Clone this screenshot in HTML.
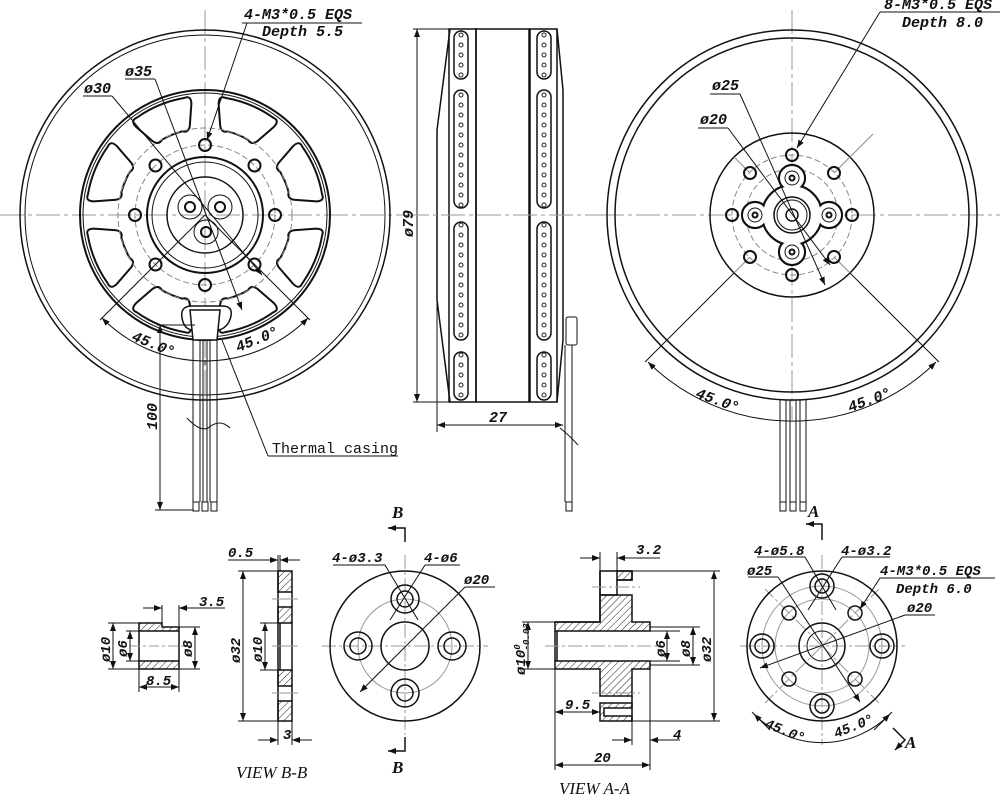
<!DOCTYPE html>
<html><head><meta charset="utf-8"><style>
html,body{margin:0;padding:0;background:#fff;}
svg{display:block;}
text{font-family:"Liberation Mono",monospace;font-style:italic;font-weight:bold;fill:#111;}
.s{font-family:"Liberation Serif",serif;}
</style></head><body>
<svg width="1000" height="795" viewBox="0 0 1000 795" xmlns="http://www.w3.org/2000/svg">
<defs>
<pattern id="hat" patternUnits="userSpaceOnUse" width="5" height="5" patternTransform="rotate(45)"><line x1="0" y1="0" x2="0" y2="5" stroke="#222" stroke-width="1"/></pattern>
<pattern id="dl" patternUnits="userSpaceOnUse" x="455" y="0" width="12" height="10"><circle cx="6" cy="5" r="2" fill="none" stroke="#222" stroke-width="1"/></pattern>
<pattern id="dr" patternUnits="userSpaceOnUse" x="538" y="0" width="12" height="10"><circle cx="6" cy="5" r="2" fill="none" stroke="#222" stroke-width="1"/></pattern>
<marker id="ar" markerWidth="8" markerHeight="6" refX="8" refY="3" orient="auto-start-reverse" markerUnits="userSpaceOnUse"><path d="M0,0 L8,3 L0,6 Z" fill="#111"/></marker>
<path id="win" d="M86,-11 Q82,-16 88,-20 L108,-30 Q116,-33 116,-26 A117 117 0 0 1 116,26 Q116,33 108,30 L88,20 Q82,16 86,11 A88 88 0 0 0 86,-11 Z" fill="none" stroke="#111" stroke-width="2" stroke-linejoin="round"/>
</defs>
<g fill="none" stroke="#111" stroke-width="1">

<!-- ===== LEFT VIEW ===== -->
<g stroke="#999" stroke-dasharray="24,4,4,4">
<line x1="0" y1="215" x2="405" y2="215"/><line x1="205" y1="10" x2="205" y2="400"/>
</g>
<circle cx="205" cy="215" r="185" stroke-width="1.5"/>
<circle cx="205" cy="215" r="180"/>
<circle cx="205" cy="215" r="125" stroke-width="2"/>
<circle cx="205" cy="215" r="122"/>
<g transform="translate(205,215)">
<use href="#win" transform="rotate(22.5)"/><use href="#win" transform="rotate(67.5)"/>
<use href="#win" transform="rotate(112.5)"/><use href="#win" transform="rotate(157.5)"/>
<use href="#win" transform="rotate(202.5)"/><use href="#win" transform="rotate(247.5)"/>
<use href="#win" transform="rotate(292.5)"/><use href="#win" transform="rotate(337.5)"/>
</g>
<circle cx="205" cy="215" r="70" stroke="#888" stroke-dasharray="6,3"/>
<circle cx="205" cy="215" r="87" stroke="#888" stroke-dasharray="6,3"/>
<g stroke-width="2">
<circle cx="275" cy="215" r="6"/><circle cx="254.5" cy="264.5" r="6"/><circle cx="205" cy="285" r="6"/><circle cx="155.5" cy="264.5" r="6"/>
<circle cx="135" cy="215" r="6"/><circle cx="155.5" cy="165.5" r="6"/><circle cx="205" cy="145" r="6"/><circle cx="254.5" cy="165.5" r="6"/>
</g>
<circle cx="205" cy="215" r="58" stroke-width="2"/>
<circle cx="205" cy="215" r="53"/>
<circle cx="205" cy="215" r="38" stroke-width="1.5"/>
<circle cx="190" cy="207" r="12"/><circle cx="190" cy="207" r="5" stroke-width="2"/>
<circle cx="220" cy="207" r="12"/><circle cx="220" cy="207" r="5" stroke-width="2"/>
<circle cx="206" cy="232" r="12"/><circle cx="206" cy="232" r="5" stroke-width="2"/>
<!-- lug -->
<path d="M183,322 Q178,306 192,306 L222,306 Q236,306 229,322 Q224,330 217,330 L193,330 Q186,330 183,322 Z" stroke-width="1.5" fill="#fff"/>
<path d="M190,310 L220,310 L217,340 L193,340 Z" fill="#fff" stroke-width="1.5"/>
<!-- wires -->
<g>
<line x1="193" y1="340" x2="193" y2="502"/><line x1="217" y1="340" x2="217" y2="502"/>
<line x1="200" y1="340" x2="200" y2="502"/><line x1="203" y1="340" x2="203" y2="502"/>
<line x1="207" y1="340" x2="207" y2="502"/><line x1="210" y1="340" x2="210" y2="502"/>
<rect x="193" y="502" width="6" height="9"/><rect x="202" y="502" width="6" height="9"/><rect x="211" y="502" width="6" height="9"/>
<path d="M187,418 Q200,432 208,428 Q220,418 230,428"/>
</g>
<!-- dims left -->
<line x1="160" y1="325" x2="160" y2="510" marker-start="url(#ar)" marker-end="url(#ar)"/>
<line x1="157" y1="325" x2="195" y2="325"/><line x1="155" y1="510" x2="193" y2="510"/>
<line x1="205" y1="215" x2="100" y2="320"/><line x1="205" y1="215" x2="310" y2="320"/>
<path d="M102,318 A145 145 0 0 0 308,318" marker-start="url(#ar)" marker-end="url(#ar)"/>
<line x1="205" y1="360" x2="205" y2="365"/>
<line x1="247" y1="23" x2="207" y2="140" marker-end="url(#ar)"/>
<line x1="242" y1="23" x2="362" y2="23"/>
<line x1="125" y1="79" x2="155" y2="79"/><line x1="155" y1="79" x2="242" y2="310" marker-end="url(#ar)"/>
<line x1="83" y1="96" x2="112" y2="96"/><line x1="112" y1="96" x2="262" y2="275" marker-end="url(#ar)"/>
<line x1="222" y1="340" x2="268" y2="456"/><line x1="268" y1="456" x2="398" y2="456"/>

<!-- ===== SIDE VIEW ===== -->
<line x1="413" y1="29" x2="455" y2="29"/><line x1="413" y1="402" x2="455" y2="402"/>
<line x1="417" y1="29" x2="417" y2="402" marker-start="url(#ar)" marker-end="url(#ar)"/>
<path d="M450,29 L437,130 L437,300 L450,402" stroke-width="1.5"/>
<rect x="449" y="29" width="27" height="373" stroke-width="1.5"/>
<rect x="476" y="29" width="53" height="373" stroke-width="1.5"/>
<rect x="530" y="29" width="27" height="373" stroke-width="1.5"/>
<path d="M557,29 L563,90 L563,340 L557,402" stroke-width="1.5"/>
<g stroke-width="1.5">
<rect x="454" y="31" width="14" height="48" rx="7" fill="url(#dl)"/>
<rect x="454" y="90" width="14" height="118" rx="7" fill="url(#dl)"/>
<rect x="454" y="222" width="14" height="118" rx="7" fill="url(#dl)"/>
<rect x="454" y="352" width="14" height="48" rx="7" fill="url(#dl)"/>
<rect x="537" y="31" width="14" height="48" rx="7" fill="url(#dr)"/>
<rect x="537" y="90" width="14" height="118" rx="7" fill="url(#dr)"/>
<rect x="537" y="222" width="14" height="118" rx="7" fill="url(#dr)"/>
<rect x="537" y="352" width="14" height="48" rx="7" fill="url(#dr)"/>
</g>
<rect x="566" y="317" width="11" height="28" rx="2"/>
<line x1="565" y1="345" x2="565" y2="502"/><line x1="572" y1="345" x2="572" y2="502"/>
<rect x="566" y="502" width="6" height="9"/>
<path d="M560,428 Q570,436 578,445"/>
<line x1="437" y1="300" x2="437" y2="432"/>
<line x1="437" y1="425" x2="563" y2="425" marker-start="url(#ar)" marker-end="url(#ar)"/>
<g stroke="#999" stroke-dasharray="24,4,4,4"><line x1="405" y1="215" x2="600" y2="215"/></g>

<!-- ===== RIGHT VIEW ===== -->
<g stroke="#999" stroke-dasharray="24,4,4,4">
<line x1="600" y1="215" x2="1000" y2="215"/><line x1="792" y1="10" x2="792" y2="420"/>
</g>
<circle cx="792" cy="215" r="185" stroke-width="1.5"/>
<circle cx="792" cy="215" r="177" stroke-width="1.5"/>
<circle cx="792" cy="215" r="82" stroke-width="1.5"/>
<circle cx="792" cy="215" r="60" stroke="#888" stroke-dasharray="6,3"/>
<circle cx="792" cy="215" r="46" stroke="#888" stroke-dasharray="6,3"/>
<g stroke="#888"><line x1="750" y1="173" x2="735" y2="158"/><line x1="834" y1="173" x2="873" y2="134"/><line x1="834" y1="257" x2="850" y2="273"/><line x1="750" y1="257" x2="734" y2="273"/></g>
<line x1="734" y1="273" x2="645" y2="362"/><line x1="850" y1="273" x2="939" y2="362"/>
<path d="M648,362 A205 205 0 0 0 936,362" marker-start="url(#ar)" marker-end="url(#ar)"/>
<g stroke-width="2">
<circle cx="792" cy="155" r="6"/><circle cx="834" cy="173" r="6"/><circle cx="852" cy="215" r="6"/><circle cx="834" cy="257" r="6"/>
<circle cx="792" cy="275" r="6"/><circle cx="750" cy="257" r="6"/><circle cx="732" cy="215" r="6"/><circle cx="750" cy="173" r="6"/>
</g>
<g stroke-width="2.2"><circle cx="792" cy="215" r="30"/><circle cx="792" cy="178" r="13"/><circle cx="829" cy="215" r="13"/><circle cx="792" cy="252" r="13"/><circle cx="755" cy="215" r="13"/></g>
<g fill="#fff" stroke="none"><circle cx="792" cy="215" r="28.9"/><circle cx="792" cy="178" r="11.9"/><circle cx="829" cy="215" r="11.9"/><circle cx="792" cy="252" r="11.9"/><circle cx="755" cy="215" r="11.9"/></g>
<circle cx="792" cy="178" r="7"/><circle cx="792" cy="178" r="2.5" stroke-width="2"/>
<circle cx="829" cy="215" r="7"/><circle cx="829" cy="215" r="2.5" stroke-width="2"/>
<circle cx="792" cy="252" r="7"/><circle cx="792" cy="252" r="2.5" stroke-width="2"/>
<circle cx="755" cy="215" r="7"/><circle cx="755" cy="215" r="2.5" stroke-width="2"/>
<circle cx="792" cy="215" r="18" stroke-width="1.5"/><circle cx="792" cy="215" r="15"/><circle cx="792" cy="215" r="6" stroke-width="1.5"/>
<line x1="880" y1="12" x2="1000" y2="12"/><line x1="880" y1="12" x2="797" y2="148" marker-end="url(#ar)"/>
<line x1="710" y1="94" x2="740" y2="94"/><line x1="740" y1="94" x2="825" y2="285" marker-end="url(#ar)"/>
<line x1="698" y1="128" x2="728" y2="128"/><line x1="728" y1="128" x2="830" y2="265" marker-end="url(#ar)"/>
<g>
<line x1="780" y1="400" x2="780" y2="502"/><line x1="786" y1="400" x2="786" y2="502"/><line x1="790" y1="400" x2="790" y2="502"/>
<line x1="796" y1="400" x2="796" y2="502"/><line x1="800" y1="400" x2="800" y2="502"/><line x1="806" y1="400" x2="806" y2="502"/>
<rect x="780" y="502" width="6" height="9"/><rect x="790" y="502" width="6" height="9"/><rect x="800" y="502" width="6" height="9"/>
</g>

<!-- ===== BUSHING ===== -->
<path d="M139,623 L162,623 L162,627 L179,627 L179,631 L139,631 Z" fill="url(#hat)" stroke-width="1.5"/>
<path d="M139,661 L179,661 L179,669 L139,669 Z" fill="url(#hat)" stroke-width="1.5"/>
<line x1="139" y1="631" x2="139" y2="661" stroke-width="1.5"/><line x1="179" y1="631" x2="179" y2="661" stroke-width="1.5"/>
<line x1="130" y1="646" x2="190" y2="646" stroke="#999" stroke-dasharray="10,3,3,3"/>
<line x1="108" y1="623" x2="139" y2="623"/><line x1="108" y1="669" x2="139" y2="669"/>
<line x1="113" y1="623" x2="113" y2="669" marker-start="url(#ar)" marker-end="url(#ar)"/>
<line x1="126" y1="631" x2="139" y2="631"/><line x1="126" y1="661" x2="139" y2="661"/>
<line x1="130" y1="631" x2="130" y2="661" marker-start="url(#ar)" marker-end="url(#ar)"/>
<line x1="179" y1="627" x2="200" y2="627"/><line x1="179" y1="669" x2="200" y2="669"/>
<line x1="195" y1="627" x2="195" y2="669" marker-start="url(#ar)" marker-end="url(#ar)"/>
<line x1="139" y1="669" x2="139" y2="692"/><line x1="179" y1="669" x2="179" y2="692"/>
<line x1="139" y1="687" x2="179" y2="687" marker-start="url(#ar)" marker-end="url(#ar)"/>
<line x1="162" y1="623" x2="162" y2="605"/><line x1="179" y1="627" x2="179" y2="605"/>
<line x1="143" y1="608" x2="162" y2="608" marker-end="url(#ar)"/><line x1="225" y1="608" x2="179" y2="608" marker-end="url(#ar)"/>

<!-- ===== VIEW B-B plate ===== -->
<g stroke-width="1.5">
<rect x="278" y="571" width="14" height="21" fill="url(#hat)"/>
<rect x="278" y="607" width="14" height="16" fill="url(#hat)"/>
<rect x="278" y="670" width="14" height="16" fill="url(#hat)"/>
<rect x="278" y="701" width="14" height="20" fill="url(#hat)"/>
<line x1="278" y1="571" x2="278" y2="721"/><line x1="292" y1="592" x2="292" y2="607"/><line x1="292" y1="686" x2="292" y2="701"/>
<line x1="280" y1="623" x2="280" y2="670"/><line x1="292" y1="623" x2="292" y2="670"/>
</g>
<g stroke="#999"><line x1="272" y1="599" x2="298" y2="599"/><line x1="272" y1="693" x2="298" y2="693"/><line x1="272" y1="646" x2="298" y2="646"/></g>
<line x1="238" y1="571" x2="278" y2="571"/><line x1="238" y1="721" x2="278" y2="721"/>
<line x1="243" y1="571" x2="243" y2="721" marker-start="url(#ar)" marker-end="url(#ar)"/>
<line x1="260" y1="623" x2="278" y2="623"/><line x1="260" y1="670" x2="278" y2="670"/>
<line x1="265" y1="623" x2="265" y2="670" marker-start="url(#ar)" marker-end="url(#ar)"/>
<line x1="278" y1="555" x2="278" y2="571"/><line x1="280" y1="555" x2="280" y2="571"/>
<line x1="228" y1="560" x2="278" y2="560" marker-end="url(#ar)"/><line x1="300" y1="560" x2="280" y2="560" marker-end="url(#ar)"/>
<line x1="278" y1="721" x2="278" y2="745"/><line x1="292" y1="721" x2="292" y2="745"/>
<line x1="258" y1="740" x2="278" y2="740" marker-end="url(#ar)"/><line x1="312" y1="740" x2="292" y2="740" marker-end="url(#ar)"/>

<!-- B-B front -->
<g stroke="#999" stroke-dasharray="14,3,3,3"><line x1="322" y1="646" x2="488" y2="646"/><line x1="405" y1="555" x2="405" y2="735"/></g>
<circle cx="405" cy="646" r="75" stroke-width="1.5"/>
<circle cx="405" cy="646" r="47" stroke="#999"/>
<circle cx="405" cy="646" r="24" stroke-width="1.5"/>
<g stroke-width="1.5">
<circle cx="405" cy="599" r="14"/><circle cx="405" cy="599" r="8"/>
<circle cx="452" cy="646" r="14"/><circle cx="452" cy="646" r="8"/>
<circle cx="405" cy="693" r="14"/><circle cx="405" cy="693" r="8"/>
<circle cx="358" cy="646" r="14"/><circle cx="358" cy="646" r="8"/>
</g>
<line x1="333" y1="565" x2="385" y2="565"/><line x1="385" y1="565" x2="418" y2="620"/>
<line x1="425" y1="565" x2="460" y2="565"/><line x1="425" y1="565" x2="390" y2="620"/>
<line x1="465" y1="587" x2="495" y2="587"/><line x1="465" y1="587" x2="360" y2="692" marker-end="url(#ar)"/>
<path d="M405,542 L405,528 L388,528" stroke-width="1.5" marker-end="url(#ar)"/>
<path d="M405,737 L405,751 L388,751" stroke-width="1.5" marker-end="url(#ar)"/>

<!-- ===== VIEW A-A section ===== -->
<g stroke-width="1.5">
<path d="M555,622 L600,622 L600,595 L617,595 L617,580 L632,580 L632,571 L617,571 L600,571 L600,595" fill="none"/>
<path d="M617,571 L632,571 L632,580 L617,580 Z" fill="url(#hat)"/>
<path d="M555,622 L600,622 L600,595 L617,595 L632,595 L632,622 L650,622 L650,631 L555,631 Z" fill="url(#hat)"/>
<path d="M555,661 L650,661 L650,669 L632,669 L632,696 L600,696 L600,669 L555,669 Z" fill="url(#hat)"/>
<path d="M600,703 L632,703 L632,708 L604,708 L604,716 L632,716 L632,721 L600,721 Z" fill="url(#hat)"/>
<line x1="632" y1="696" x2="632" y2="721"/><line x1="600" y1="571" x2="600" y2="595"/>
<line x1="555" y1="631" x2="555" y2="661"/><line x1="557" y1="631" x2="557" y2="661"/>
</g>
<g stroke="#999" stroke-dasharray="14,3,3,3"><line x1="545" y1="646" x2="660" y2="646"/><line x1="592" y1="587" x2="640" y2="587"/><line x1="592" y1="693" x2="640" y2="693"/></g>
<line x1="522" y1="622" x2="555" y2="622"/><line x1="522" y1="669" x2="555" y2="669"/>
<line x1="528" y1="622" x2="528" y2="669" marker-start="url(#ar)" marker-end="url(#ar)"/>
<line x1="650" y1="631" x2="680" y2="631"/><line x1="650" y1="661" x2="680" y2="661"/>
<line x1="667" y1="631" x2="667" y2="661" marker-start="url(#ar)" marker-end="url(#ar)"/>
<line x1="650" y1="627" x2="700" y2="627"/><line x1="650" y1="665" x2="700" y2="665"/>
<line x1="693" y1="627" x2="693" y2="665" marker-start="url(#ar)" marker-end="url(#ar)"/>
<line x1="632" y1="571" x2="720" y2="571"/><line x1="632" y1="721" x2="720" y2="721"/>
<line x1="714" y1="571" x2="714" y2="721" marker-start="url(#ar)" marker-end="url(#ar)"/>
<line x1="600" y1="571" x2="600" y2="552"/><line x1="617" y1="571" x2="617" y2="552"/>
<line x1="580" y1="558" x2="600" y2="558" marker-end="url(#ar)"/><line x1="660" y1="558" x2="617" y2="558" marker-end="url(#ar)"/>
<line x1="555" y1="669" x2="555" y2="770"/><line x1="650" y1="669" x2="650" y2="770"/>
<line x1="555" y1="712" x2="600" y2="712" marker-start="url(#ar)" marker-end="url(#ar)"/>
<line x1="632" y1="721" x2="632" y2="745"/>
<line x1="612" y1="740" x2="632" y2="740" marker-end="url(#ar)"/><line x1="680" y1="740" x2="650" y2="740" marker-end="url(#ar)"/>
<line x1="555" y1="765" x2="650" y2="765" marker-start="url(#ar)" marker-end="url(#ar)"/>

<!-- A-A front -->
<g stroke="#999" stroke-dasharray="14,3,3,3"><line x1="740" y1="646" x2="905" y2="646"/><line x1="822" y1="555" x2="822" y2="745"/>
<line x1="822" y1="646" x2="765" y2="589"/><line x1="822" y1="646" x2="879" y2="589"/><line x1="822" y1="646" x2="765" y2="703"/><line x1="822" y1="646" x2="879" y2="703"/></g>
<circle cx="822" cy="646" r="75" stroke-width="1.5"/>
<circle cx="822" cy="646" r="60" stroke="#999"/>
<circle cx="822" cy="646" r="47" stroke="#999"/>
<circle cx="822" cy="646" r="23" stroke-width="1.5"/>
<circle cx="822" cy="646" r="15"/>
<g stroke-width="1.5">
<circle cx="822" cy="586" r="12"/><circle cx="822" cy="586" r="7"/>
<circle cx="882" cy="646" r="12"/><circle cx="882" cy="646" r="7"/>
<circle cx="822" cy="706" r="12"/><circle cx="822" cy="706" r="7"/>
<circle cx="762" cy="646" r="12"/><circle cx="762" cy="646" r="7"/>
<circle cx="855" cy="613" r="7"/><circle cx="789" cy="613" r="7"/><circle cx="855" cy="679" r="7"/><circle cx="789" cy="679" r="7"/>
</g>
<line x1="770" y1="730" x2="752" y2="712"/><line x1="874" y1="730" x2="892" y2="712"/>
<path d="M754,714 A95 95 0 0 0 890,714" marker-start="url(#ar)" marker-end="url(#ar)"/>
<line x1="757" y1="557" x2="805" y2="557"/><line x1="805" y1="557" x2="836" y2="610"/>
<line x1="842" y1="557" x2="890" y2="557"/><line x1="842" y1="557" x2="808" y2="610"/>
<line x1="748" y1="577" x2="778" y2="577"/><line x1="778" y1="577" x2="860" y2="702" marker-end="url(#ar)"/>
<line x1="880" y1="578" x2="995" y2="578"/><line x1="880" y1="578" x2="860" y2="609" marker-end="url(#ar)"/>
<line x1="905" y1="615" x2="935" y2="615"/><line x1="905" y1="615" x2="760" y2="668" marker-end="url(#ar)"/>
<path d="M822,540 L822,524 L806,524" stroke-width="1.5" marker-end="url(#ar)"/>
<path d="M893,728 L905,740 L895,750" stroke-width="1.5" marker-end="url(#ar)"/>
</g>

<!-- ===== TEXT ===== -->
<g font-size="15">
<text x="244" y="19">4-M3*0.5 EQS</text>
<text x="262" y="36">Depth 5.5</text>
<text x="125" y="76">ø35</text>
<text x="84" y="93">ø30</text>
<text transform="translate(131,340) rotate(22)">45.0°</text>
<text transform="translate(238,352) rotate(-22)">45.0°</text>
<text transform="translate(157,430) rotate(-90)">100</text>
<text x="272" y="453" style="font-style:normal;font-weight:normal">Thermal casing</text>
<text transform="translate(413,237) rotate(-90)">ø79</text>
<text x="489" y="422">27</text>
<text x="884" y="9">8-M3*0.5 EQS</text>
<text x="902" y="27">Depth 8.0</text>
<text x="712" y="90">ø25</text>
<text x="700" y="124">ø20</text>
<text transform="translate(695,397) rotate(20)">45.0°</text>
<text transform="translate(850,412) rotate(-20)">45.0°</text>
</g>
<g font-size="14">
<text x="199" y="606">3.5</text>
<text transform="translate(110,662) rotate(-90)">ø10</text>
<text transform="translate(127,657) rotate(-90)">ø6</text>
<text transform="translate(192,657) rotate(-90)">ø8</text>
<text x="146" y="685">8.5</text>
<text x="228" y="557">0.5</text>
<text transform="translate(240,663) rotate(-90)">ø32</text>
<text transform="translate(262,662) rotate(-90)">ø10</text>
<text x="283" y="739">3</text>
<text x="332" y="562">4-ø3.3</text>
<text x="424" y="562">4-ø6</text>
<text x="464" y="584">ø20</text>

<text x="636" y="554">3.2</text>
<text transform="translate(525,675) rotate(-90)">ø10<tspan font-size="9" dy="-5">0</tspan><tspan font-size="9" dx="-6" dy="9">-0.03</tspan></text>
<text transform="translate(665,657) rotate(-90)">ø6</text>
<text transform="translate(690,657) rotate(-90)">ø8</text>
<text transform="translate(711,662) rotate(-90)">ø32</text>
<text x="565" y="709">9.5</text>
<text x="673" y="739">4</text>
<text x="594" y="762">20</text>
<text x="754" y="555">4-ø5.8</text>
<text x="841" y="555">4-ø3.2</text>
<text x="747" y="575">ø25</text>
<text x="880" y="575">4-M3*0.5 EQS</text>
<text x="896" y="593">Depth 6.0</text>
<text x="907" y="612">ø20</text>
<text transform="translate(764,727) rotate(22)">45.0°</text>
<text transform="translate(836,738) rotate(-22)">45.0°</text>
</g>
<g class="s" font-size="17">
<text class="s" x="392" y="518">B</text>
<text class="s" x="392" y="773">B</text>
<text class="s" x="808" y="517">A</text>
<text class="s" x="905" y="748">A</text>
<text class="s" x="236" y="778" style="font-weight:normal">VIEW  B-B</text>
<text class="s" x="559" y="794" style="font-weight:normal">VIEW  A-A</text>
</g>
</svg>
</body></html>
